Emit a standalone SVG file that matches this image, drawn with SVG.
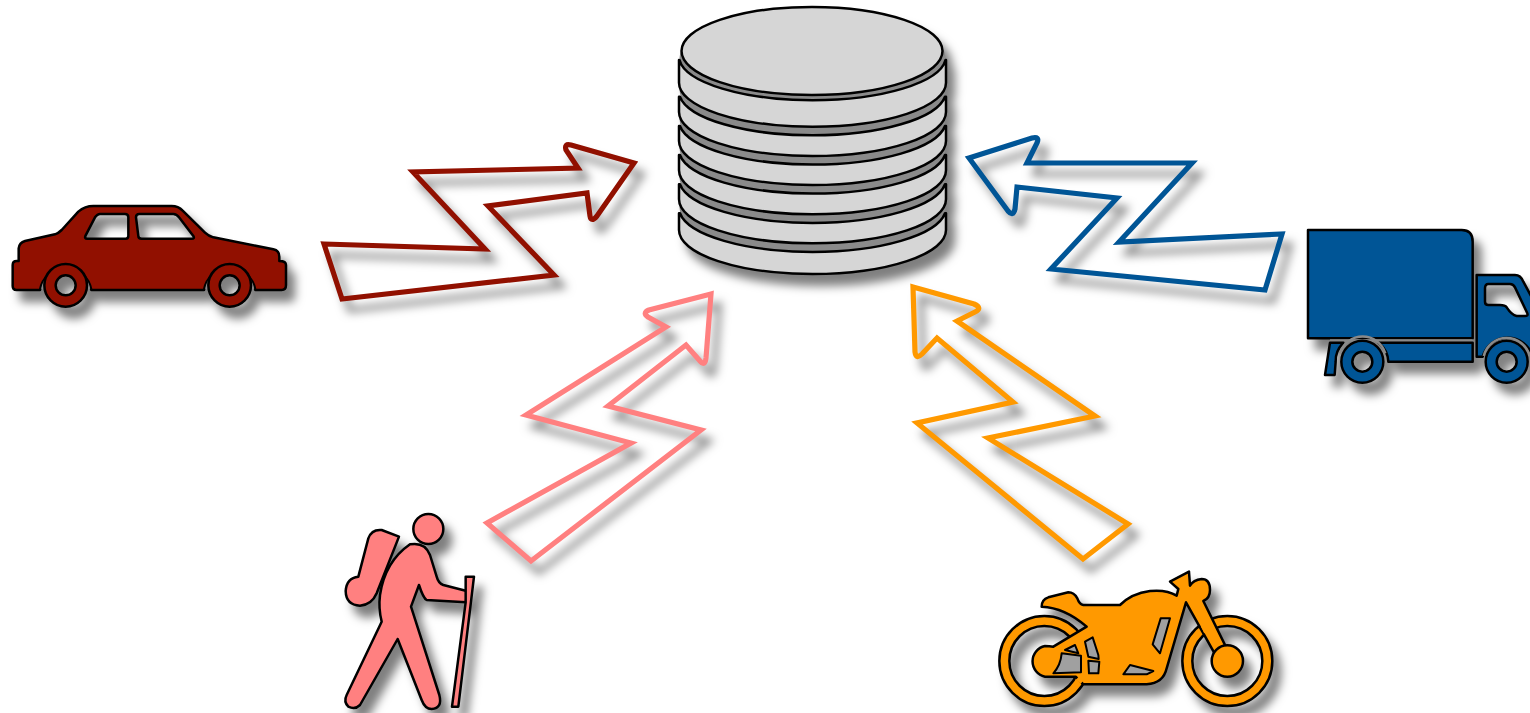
<svg xmlns="http://www.w3.org/2000/svg" width="1530" height="713" viewBox="0 0 1530 713">
<style>
.arrow{fill:none;stroke-width:5.2;stroke-linejoin:miter;stroke-miterlimit:10;filter:url(#sh)}
.ic{stroke:#000;stroke-width:7.5;stroke-linejoin:round}
.db{stroke:#000;stroke-width:2.5;fill:#d6d6d6;stroke-linejoin:round}
.rim{fill:#8a8a8a;stroke:none}
.car{fill:#911000}
.truck{fill:#005596}
.hiker{fill:#ff8080}
.moto{fill:#ff9900}
.gap{fill:none;stroke:#8a8a8a;stroke-width:7}
.slot{fill:#a0a0a0;stroke:#000;stroke-width:6;stroke-linejoin:round}
.patch{stroke:#ff9900;stroke-width:12;fill:none}
</style>
<defs>
<filter id="sh" filterUnits="userSpaceOnUse" x="0" y="0" width="1530" height="713" color-interpolation-filters="sRGB">
<feGaussianBlur in="SourceAlpha" stdDeviation="5" result="b"/>
<feOffset in="b" dx="8" dy="11" result="o"/>
<feFlood flood-color="#000" flood-opacity="0.5"/>
<feComposite in2="o" operator="in" result="s"/>
<feMerge><feMergeNode in="s"/><feMergeNode in="SourceGraphic"/></feMerge>
</filter>
</defs>
<g id="connectors">
<path class="arrow" stroke="#911000" d="M324,244 L485,249 L413,172 L578,168 L566,150 Q564,143 571,145 L634,163 L597,216 Q591,223 590,216 L587,193 L488,206 L554,275 L342,299 Z"/>
<path class="arrow" stroke="#005596" d="M969,158 L1032,138 Q1040,136 1037,143 L1027,163 L1192,163 L1119,242 L1282,234 L1265,290 L1051,269 L1117,198 L1017,187 L1015,209 Q1013,217 1008,211 Z"/>
<path class="arrow" stroke="#ff8080" d="M711,294 L649,310 Q642,313 648,317 L666,327 L526,415 L631,443 L487,523 L531,561 L701,430 L608,406 L686,345 L700,361 Q705,367 706,358 Z"/>
<path class="arrow" stroke="#ff9900" d="M913,287 L974,304 Q983,308 975,312 L957,321 L1095,416 L988,438 L1128,524 L1083,559 L917,423 L1013,402 L937,338 L922,354 Q916,360 915,352 Z"/>
</g>
<g id="database" filter="url(#sh)">
<ellipse class="rim" cx="812.5" cy="207.7" rx="133" ry="44"/>
<path class="db" d="M679,213.3 V230 A133.5,44 0 0 0 946,230 V213.3 H945 A133.5,44 0 0 1 680,213.3 Z"/>
<ellipse class="rim" cx="812.5" cy="177.7" rx="133" ry="44"/>
<path class="db" d="M679,184.3 V199.3 A133.5,44 0 0 0 946,199.3 V184.3 H945 A133.5,44 0 0 1 680,184.3 Z"/>
<ellipse class="rim" cx="812.5" cy="148.3" rx="133" ry="44"/>
<path class="db" d="M679,155 V170.3 A133.5,44 0 0 0 946,170.3 V155 H945 A133.5,44 0 0 1 680,155 Z"/>
<ellipse class="rim" cx="812.5" cy="119.3" rx="133" ry="44"/>
<path class="db" d="M679,126 V141 A133.5,44 0 0 0 946,141 V126 H945 A133.5,44 0 0 1 680,126 Z"/>
<ellipse class="rim" cx="812.5" cy="90" rx="133" ry="44"/>
<path class="db" d="M679,96.7 V112 A133.5,44 0 0 0 946,112 V96.7 H945 A133.5,44 0 0 1 680,96.7 Z"/>
<ellipse class="rim" cx="812.5" cy="57.7" rx="133" ry="44"/>
<path class="db" d="M679,60 V82.7 A133.5,44 0 0 0 946,82.7 V60 H945.5 A133.5,44 0 0 1 679.5,60 Z"/>
<ellipse class="db" cx="812" cy="51" rx="130.5" ry="44"/>
</g>
<g id="car" filter="url(#sh)"><g transform="translate(0,190) scale(0.33333)">
<path class="ic car" fill-rule="evenodd" d="M38,225 Q38,213 50,213 L56,213 L56,175 Q58,158 75,153 L165,133 Q175,130 185,120 L235,65 Q255,48 280,48 L515,48 Q535,48 548,62 L615,128 Q625,138 640,142 L820,178 Q838,182 838,200 L838,213 Q858,213 858,225 L858,285 Q858,300 845,300 L766,300 A78,78 0 0 0 612,300 L274,300 A78,78 0 0 0 120,300 L50,300 Q38,300 38,288 Z M300,72 L375,72 Q385,72 385,82 L385,138 Q385,146 377,146 L262,146 Q252,146 257,136 L285,82 Q292,72 300,72 Z M418,72 L520,72 Q530,72 537,82 L580,138 Q585,146 575,146 L425,146 Q415,146 415,138 L408,82 Q408,72 418,72 Z"/>
<path class="gap" d="M127,297 A71,71 0 0 1 267,297"/>
<path class="gap" d="M619,297 A71,71 0 0 1 759,297"/>
<path class="ic car" fill-rule="evenodd" d="M133,286 a64,64 0 1 0 128,0 a64,64 0 1 0 -128,0 Z M167,286 a30,30 0 1 0 60,0 a30,30 0 1 0 -60,0 Z"/>
<path class="ic car" fill-rule="evenodd" d="M625,286 a64,64 0 1 0 128,0 a64,64 0 1 0 -128,0 Z M659,286 a30,30 0 1 0 60,0 a30,30 0 1 0 -60,0 Z"/>
</g></g>
<g id="truck" filter="url(#sh)"><g transform="translate(1290,220) scale(0.33333)">
<path class="ic truck" d="M54,30 L515,30 Q548,30 548,65 L548,355 L54,355 Z"/>
<path class="gap" d="M120,361.5 H548"/>
<path class="ic truck" d="M266,368 L548,368 L548,425 L295,425 A78,78 0 0 0 266,368 Z"/>
<path class="ic truck" d="M120,368 L160,368 Q135,395 137,425 L134,465 L105,465 Z"/>
<path class="ic truck" fill-rule="evenodd" d="M560,165 L675,165 Q692,165 700,185 L735,250 L800,260 L800,410 L728,410 A78,78 0 0 0 578,410 L560,410 Z M595,192 L660,192 Q670,192 675,202 L712,280 Q715,288 705,288 L680,288 Q665,285 650,262 Q645,255 630,255 L595,255 Q585,255 585,245 L585,205 Q585,192 595,192 Z"/>
<path class="gap" d="M581,408 A71,71 0 0 1 719,408"/>
<path class="gap" d="M150,400 A71,71 0 0 1 286,400"/>
<path class="ic truck" fill-rule="evenodd" d="M154,425 a63,63 0 1 0 126,0 a63,63 0 1 0 -126,0 Z M187,425 a30,30 0 1 0 60,0 a30,30 0 1 0 -60,0 Z"/>
<path class="ic truck" fill-rule="evenodd" d="M587,425 a63,63 0 1 0 126,0 a63,63 0 1 0 -126,0 Z M620,425 a30,30 0 1 0 60,0 a30,30 0 1 0 -60,0 Z"/>
</g></g>
<g id="hiker" filter="url(#sh)"><g transform="translate(330,505) scale(0.33333)">
<circle class="ic hiker" cx="295" cy="72" r="45"/>
<path class="ic hiker" d="M115,100 Q125,72 155,75 L207,95 L140,265 Q125,300 90,302 Q48,300 47,258 Q50,218 85,215 Z"/>
<path class="ic hiker" d="M240,118 Q285,110 300,150 L320,215 Q325,235 340,240 L410,258 L408,292 L290,285 Q280,280 267,240 L243,305 L328,570 Q338,610 305,612 Q285,612 275,585 L203,402 L90,600 Q75,615 55,605 Q40,590 50,570 L155,350 Q145,310 150,270 Q165,170 240,118 Z"/>
<path class="ic hiker" d="M407,215 L432,215 L385,605 L366,605 L407,292 Z"/>
</g></g>
<g id="motorcycle" filter="url(#sh)"><g transform="translate(990,565) scale(0.33333)">
<path class="ic moto" fill-rule="evenodd" d="M28,288 a135,135 0 1 0 270,0 a135,135 0 1 0 -270,0 Z M58,288 a105,105 0 1 0 210,0 a105,105 0 1 0 -210,0 Z"/>
<path class="ic moto" fill-rule="evenodd" d="M577,288 a135,135 0 1 0 270,0 a135,135 0 1 0 -270,0 Z M607,288 a105,105 0 1 0 210,0 a105,105 0 1 0 -210,0 Z"/>
<path class="ic moto" d="M155,125 Q155,103 175,97 L235,82 Q252,82 262,100 Q268,118 280,120 L390,120 Q425,85 480,78 Q530,73 560,92 L565,72 L540,50 L597,20 L600,62 Q610,45 635,42 Q660,42 660,75 Q660,100 640,108 L706,242 L672,262 L588,112 L530,310 Q520,355 470,358 L280,358 L257,335 L165,335 A47,47 0 0 1 165,243 Q178,243 190,245 L245,212 L290,185 Q225,128 155,125 Z"/>
<circle class="ic moto" cx="712" cy="288" r="47"/>
<path class="patch" d="M638,182 L648,202"/>
<path class="patch" d="M276,352 L262,340"/>
<path class="slot" d="M215,265 L273,272 L273,322 L190,325 Q212,300 215,265 Z"/>
<path class="slot" d="M225,255 L255,240 L265,265 Z"/>
<path class="slot" d="M285,230 L308,217 L325,270 L326,282 L295,275 Z"/>
<path class="slot" d="M295,287 L328,290 L325,325 L297,325 Z"/>
<path class="slot" d="M400,328 L420,300 L490,318 L470,328 Z"/>
<path class="slot" d="M512,160 L540,160 L510,265 L488,238 Z"/>
</g></g>
</svg>
